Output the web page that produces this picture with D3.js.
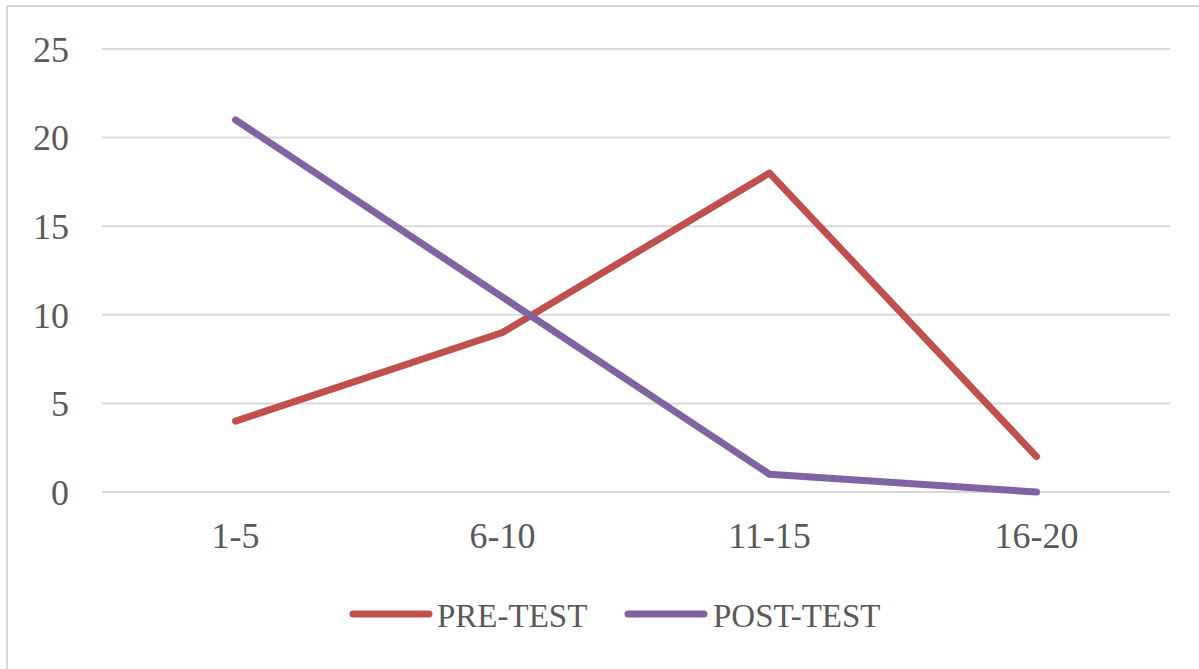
<!DOCTYPE html>
<html>
<head>
<meta charset="utf-8">
<script src="https://cdn.jsdelivr.net/npm/d3@7"></script>
<style>
  html, body { margin: 0; padding: 0; background: #fff; }
  svg { display: block; }
  text { font-family: "Liberation Serif", "Times New Roman", serif; fill: #595959; }
</style>
</head>
<body>
<svg id="chart" width="1199" height="669"></svg>
<script>
const categories = ["1-5", "6-10", "11-15", "16-20"];
const preTest = [4, 9, 18, 2];
const postTest = [21, 11, 1, 0];
const yTicks = [0, 5, 10, 15, 20, 25];
const seriesNames = ["PRE-TEST", "POST-TEST"];
const seriesColors = ["#C0504D", "#8064A2"];

const svg = d3.select("#chart");
const W = 1199, H = 669;

// outer border (chart area frame)
svg.append("rect")
  .attr("x", 7).attr("y", 6)
  .attr("width", W + 10).attr("height", H + 10)
  .attr("fill", "#fff")
  .attr("stroke", "#d9d9d9").attr("stroke-width", 2);

const plot = { left: 102, right: 1170, top: 49, bottom: 492 };

const x = d3.scaleBand().domain(categories).range([plot.left, plot.right]).padding(0);
const y = d3.scaleLinear().domain([0, 25]).range([plot.bottom, plot.top]);

// gridlines
svg.append("g").selectAll("line").data(yTicks).join("line")
  .attr("x1", plot.left).attr("x2", plot.right)
  .attr("y1", d => y(d)).attr("y2", d => y(d))
  .attr("stroke", "#d9d9d9").attr("stroke-width", 2);

// y axis labels
const yAxis = d3.axisLeft(y).tickValues(yTicks).tickSize(0).tickPadding(0);
const gy = svg.append("g").attr("transform", `translate(69,0)`).call(yAxis);
gy.select(".domain").remove();
gy.selectAll("text")
  .attr("font-size", 36).attr("fill", "#595959")
  .attr("font-family", "Liberation Serif, serif")
  .attr("dy", "0.34em");

// x axis labels
const xAxis = d3.axisBottom(x).tickSize(0).tickPadding(0);
const gx = svg.append("g").attr("transform", `translate(0,${plot.bottom})`).call(xAxis);
gx.select(".domain").remove();
gx.selectAll("text")
  .attr("font-size", 36).attr("fill", "#595959")
  .attr("font-family", "Liberation Serif, serif")
  .attr("y", 56).attr("dy", 0);

// lines
const line = d3.line()
  .x((d, i) => x(categories[i]) + x.bandwidth() / 2)
  .y(d => y(d));

[preTest, postTest].forEach((s, k) => {
  svg.append("path")
    .datum(s)
    .attr("d", line)
    .attr("fill", "none")
    .attr("stroke", seriesColors[k])
    .attr("stroke-width", 7)
    .attr("stroke-linecap", "round")
    .attr("stroke-linejoin", "round");
});

// legend
const legendItems = [
  { name: seriesNames[0], color: seriesColors[0], x0: 353, x1: 429, tx: 437 },
  { name: seriesNames[1], color: seriesColors[1], x0: 628, x1: 704, tx: 713 }
];
const lg = svg.append("g");
legendItems.forEach(it => {
  lg.append("line")
    .attr("x1", it.x0).attr("x2", it.x1)
    .attr("y1", 614).attr("y2", 614)
    .attr("stroke", it.color).attr("stroke-width", 7)
    .attr("stroke-linecap", "round");
  lg.append("text")
    .attr("x", it.tx).attr("y", 627)
    .attr("font-size", 33)
    .text(it.name);
});
</script>
</body>
</html>
